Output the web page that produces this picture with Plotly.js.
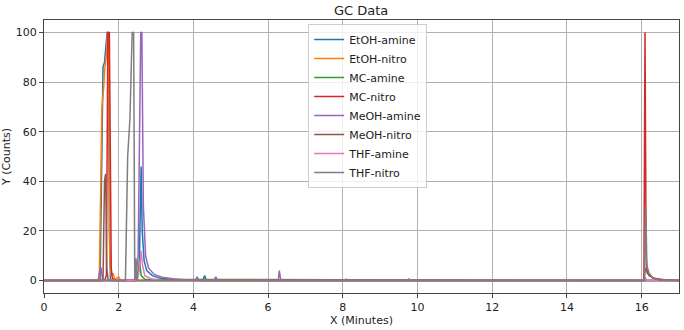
<!DOCTYPE html>
<html lang="en">
<head>
    <meta charset="UTF-8">
    <title>GC Data</title>
    <script src="https://cdn.plot.ly/plotly-3.0.1.min.js"></script>
    <style>
        body { margin: 0; background: #fff; }
        #chart { width: 684px; height: 330px; }
    </style>
</head>
<body>
    <div id="chart"></div>
    <script>
        // peak traces (x in minutes, y in counts)
        const etohAmineX = [0, 1.50, 1.53, 1.56, 1.58, 1.62, 1.66, 1.69, 1.72, 1.75, 1.78, 2.45, 2.55, 2.60, 2.63, 2.68, 2.75, 2.9, 3.1, 3.4, 3.8, 4.1, 4.25, 4.3, 4.35, 8.05, 8.1, 8.15, 17];
        const etohAmineY = [0, 0, 30, 72, 86, 88, 96, 100, 100, 20, 0, 0, 5, 46, 20, 8, 4, 2, 1, 0.5, 0.2, 0, 0, 2, 0, 0, 0.6, 0, 0];

        const etohNitroX = [0, 1.48, 1.52, 1.55, 1.60, 1.63, 1.67, 1.70, 1.73, 1.76, 1.80, 1.85, 1.9, 2.0, 2.05, 17];
        const etohNitroY = [0, 0, 40, 70, 78, 86, 90, 100, 95, 10, 2, 3, 0.5, 1.5, 0, 0];

        const mcAmineX = [0, 2.45, 2.52, 2.56, 2.6, 2.7, 17];
        const mcAmineY = [0, 0, 3, 8, 2, 0.5, 0];

        const mcNitroX = [0, 1.62, 1.67, 1.71, 1.75, 1.78, 1.80, 1.83, 1.9, 16.0, 16.06, 16.09, 16.12, 16.15, 16.3, 16.6, 17];
        const mcNitroY = [0, 0, 2, 100, 100, 40, 5, 1, 0, 0, 0, 100, 10, 3, 1, 0.2, 0];

        const meohAmineX = [0, 1.45, 1.50, 1.53, 1.57, 2.45, 2.52, 2.56, 2.59, 2.62, 2.66, 2.72, 2.8, 2.95, 3.2, 3.5, 3.7, 4.05, 4.1, 4.15, 4.55, 4.6, 4.65, 6.27, 6.3, 6.34, 9.74, 9.77, 9.8, 17];
        const meohAmineY = [0, 0, 5, 5, 0, 0, 10, 60, 100, 100, 30, 10, 5, 2.5, 1.2, 0.6, 0.3, 0, 1.5, 0, 0, 1.5, 0, 0, 4, 0, 0, 0.8, 0, 0];

        const meohNitroX = [0, 1.58, 1.62, 1.65, 1.68, 1.72, 16.05, 16.1, 16.2, 16.4, 17];
        const meohNitroY = [0, 0, 40, 43, 5, 0, 0, 5, 2, 0.5, 0];

        const thfAmineX = [0, 2.5, 2.56, 2.6, 2.64, 2.7, 2.9, 3.2, 16.05, 16.1, 16.15, 17];
        const thfAmineY = [0, 0, 5, 12, 6, 2, 0.5, 0, 0, 1, 0, 0];

        const thfNitroX = [0, 2.18, 2.24, 2.3, 2.36, 2.40, 2.43, 2.46, 2.5, 16.05, 16.08, 16.11, 16.14, 16.2, 16.3, 16.5, 17];
        const thfNitroY = [0, 0, 50, 65, 100, 100, 0, 9, 0, 0, 0, 30, 6, 3, 1, 0, 0];

        const names = ['EtOH-amine', 'EtOH-nitro', 'MC-amine', 'MC-nitro', 'MeOH-amine', 'MeOH-nitro', 'THF-amine', 'THF-nitro'];
        const xs = [etohAmineX, etohNitroX, mcAmineX, mcNitroX, meohAmineX, meohNitroX, thfAmineX, thfNitroX];
        const ys = [etohAmineY, etohNitroY, mcAmineY, mcNitroY, meohAmineY, meohNitroY, thfAmineY, thfNitroY];
        const colors = ['#1f77b4', '#ff7f0e', '#2ca02c', '#d62728', '#9467bd', '#8c564b', '#e377c2', '#7f7f7f'];

        const data = names.map((n, i) => ({
            x: xs[i],
            y: ys[i],
            type: 'scatter',
            mode: 'lines',
            name: n,
            line: { color: colors[i], width: 1.5 }
        }));

        const axisStyle = {
            showgrid: true,
            gridcolor: '#b0b0b0',
            gridwidth: 1,
            zeroline: false,
            showline: true,
            linecolor: '#444',
            linewidth: 1,
            mirror: true,
            ticks: 'outside',
            ticklen: 4,
            tickcolor: '#444',
            tickfont: { size: 11, color: '#222' }
        };

        const layout = {
            width: 684,
            height: 330,
            margin: { l: 44, r: 5, t: 20, b: 37 },
            paper_bgcolor: '#fff',
            plot_bgcolor: '#fff',
            font: { family: 'DejaVu Sans', color: '#222' },
            title: { text: 'GC Data', font: { size: 13 }, x: 0.528, xanchor: 'center', y: 0.968, yanchor: 'middle' },
            xaxis: Object.assign({}, axisStyle, {
                range: [0, 17],
                tickvals: [0, 2, 4, 6, 8, 10, 12, 14, 16]
            }),
            yaxis: Object.assign({}, axisStyle, {
                range: [-5, 105],
                tickvals: [0, 20, 40, 60, 80, 100],
                title: { text: 'Y (Counts)', font: { size: 11 }, standoff: 4 }
            }),
            // x title placed closer to the ticks than Plotly's default
            annotations: [{
                text: 'X (Minutes)',
                xref: 'paper', yref: 'paper',
                x: 0.5, y: -0.1,
                xanchor: 'center', yanchor: 'middle',
                showarrow: false,
                font: { size: 11 }
            }],
            showlegend: true,
            legend: {
                x: 0.416,
                y: 0.985,
                xanchor: 'left',
                yanchor: 'top',
                bgcolor: 'rgba(255,255,255,0.8)',
                bordercolor: '#cccccc',
                borderwidth: 1,
                font: { size: 11 },
                tracegroupgap: 0,
                itemwidth: 30
            }
        };

        Plotly.newPlot('chart', data, layout, { displayModeBar: false, staticPlot: true });
    </script>
</body>
</html>
